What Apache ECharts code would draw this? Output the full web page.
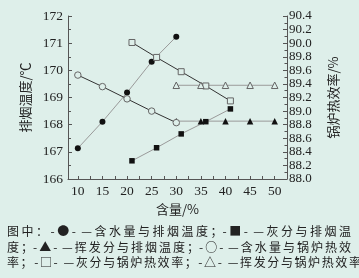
<!DOCTYPE html>
<html>
<head>
<meta charset="utf-8">
<script src="https://cdn.jsdelivr.net/npm/echarts@6/dist/echarts.min.js"></script>
<style>
  html, body { margin: 0; padding: 0; background: #deefea; }
  #wrap { position: relative; width: 359px; height: 278px; overflow: hidden; }
  #chart { position: absolute; left: 0; top: 0; width: 359px; height: 278px; }
  #caption {
    position: absolute; left: 7px; top: 223px; width: 344px;
    font-family: "Noto Sans CJK SC", sans-serif; font-size: 12px; line-height: 15.5px;
    color: #222;
  }
  #caption div { white-space: nowrap; text-align: justify; text-align-last: justify; }
  #caption div.last { text-align-last: left; letter-spacing: 1.6px; }
</style>
</head>
<body>
<div id="wrap">
  <div id="chart"></div>
  <div id="caption"></div>
</div>
<script>
// ===== Data =====
const xTicks = [10, 15, 20, 25, 30, 35, 40, 45, 50];
const xMinorTicks = [10, 12.5, 15, 17.5, 20, 22.5, 25, 27.5, 30, 32.5, 35, 37.5, 40, 42.5, 45, 47.5, 50];

const waterX = [10, 15, 20, 25, 30];
const ashX = [21, 26, 31, 36, 41];
const volX = [30, 35, 40, 45, 50];

// exhaust temperature (left axis)
const waterTemp = [167.13, 168.11, 169.18, 170.32, 171.24];
const ashTemp = [166.67, 167.15, 167.66, 168.11, 168.58];
const volTemp = [168.13, 168.13, 168.13, 168.13, 168.13];

// boiler efficiency (right axis)
const waterEff = [89.53, 89.36, 89.18, 89.0, 88.83];
const ashEff = [90.01, 89.79, 89.58, 89.37, 89.15];
const volEff = [89.38, 89.38, 89.38, 89.38, 89.38];

const captionLines = [
  '图中：-●- —含水量与排烟温度；-■- —灰分与排烟温',
  '度；-▲- —挥发分与排烟温度；-○- —含水量与锅炉热效',
  '率；-□- —灰分与锅炉热效率；-△- —挥发分与锅炉热效率。'
];

// ===== Caption =====
const cap = document.getElementById('caption');
captionLines.forEach((t, i) => {
  const d = document.createElement('div');
  d.textContent = t;
  if (i === captionLines.length - 1) d.className = 'last';
  cap.appendChild(d);
});

// ===== Chart =====
const bg = '#deefea';
const axisColor = '#555';
const numFont = { fontFamily: 'Liberation Serif', fontSize: 13.5, color: '#222' };
const zip = (xs, ys) => xs.map((x, i) => [x, ys[i]]);

function mkSeries(name, xs, ys, axis, symbol, size, filled, lineColor) {
  return {
    name,
    type: 'line',
    yAxisIndex: axis,
    data: zip(xs, ys),
    symbol,
    symbolSize: size,
    showAllSymbol: true,
    lineStyle: { color: lineColor, width: 1 },
    itemStyle: filled
      ? { color: '#111', borderColor: '#111', borderWidth: 0 }
      : { color: bg, borderColor: '#666', borderWidth: 1 },
    emphasis: { disabled: true },
    animation: false
  };
}

const chart = echarts.init(document.getElementById('chart'));

chart.setOption({
  backgroundColor: bg,
  animation: false,
  grid: { left: 68, right: 72, top: 16, bottom: 99 },
  xAxis: {
    type: 'value',
    min: 8,
    max: 52.5,
    name: '含量/%',
    nameLocation: 'middle',
    nameGap: 21,
    nameTextStyle: { fontFamily: 'Noto Sans CJK SC', fontSize: 13, color: '#222' },
    axisLine: { show: true, lineStyle: { color: axisColor } },
    axisTick: { show: true, inside: true, length: 3, customValues: xMinorTicks, lineStyle: { color: axisColor } },
    axisLabel: { customValues: xTicks, margin: 5, ...numFont },
    splitLine: { show: false }
  },
  yAxis: [
    {
      type: 'value',
      min: 166,
      max: 172,
      interval: 1,
      name: '排烟温度/℃',
      nameLocation: 'middle',
      nameRotate: 90,
      nameGap: 32,
      nameTextStyle: { fontFamily: 'Noto Sans CJK SC', fontSize: 13, color: '#222' },
      axisLine: { show: true, lineStyle: { color: axisColor } },
      axisTick: { show: true, inside: true, length: 4, lineStyle: { color: axisColor } },
      minorTick: { show: true, splitNumber: 2, length: 3, lineStyle: { color: axisColor } },
      axisLabel: { margin: 5, showMinLabel: true, showMaxLabel: true, ...numFont },
      splitLine: { show: false }
    },
    {
      type: 'value',
      min: 88,
      max: 90.4,
      interval: 0.2,
      position: 'right',
      name: '锅炉热效率/%',
      nameLocation: 'middle',
      nameRotate: 90,
      nameGap: 40,
      nameTextStyle: { fontFamily: 'Noto Sans CJK SC', fontSize: 13, color: '#222' },
      axisLine: { show: true, lineStyle: { color: axisColor } },
      axisTick: { show: true, inside: true, length: 4, lineStyle: { color: axisColor } },
      minorTick: { show: true, splitNumber: 2, length: 2.5, lineStyle: { color: axisColor } },
      axisLabel: {
        margin: 2, showMinLabel: true, showMaxLabel: true, hideOverlap: false,
        formatter: v => v.toFixed(1), ...numFont, fontSize: 13
      },
      splitLine: { show: false }
    }
  ],
  series: [
    mkSeries('含水量与排烟温度', waterX, waterTemp, 0, 'circle', 6, true, '#9a9a9a'),
    mkSeries('灰分与排烟温度', ashX, ashTemp, 0, 'rect', 5.5, true, '#9a9a9a'),
    mkSeries('挥发分与排烟温度', volX, volTemp, 0, 'triangle', 6.5, true, '#9a9a9a'),
    mkSeries('含水量与锅炉热效率', waterX, waterEff, 1, 'circle', 6.5, false, '#333'),
    mkSeries('灰分与锅炉热效率', ashX, ashEff, 1, 'rect', 6, false, '#333'),
    mkSeries('挥发分与锅炉热效率', volX, volEff, 1, 'triangle', 6.5, false, '#9a9a9a')
  ]
});
</script>
</body>
</html>
